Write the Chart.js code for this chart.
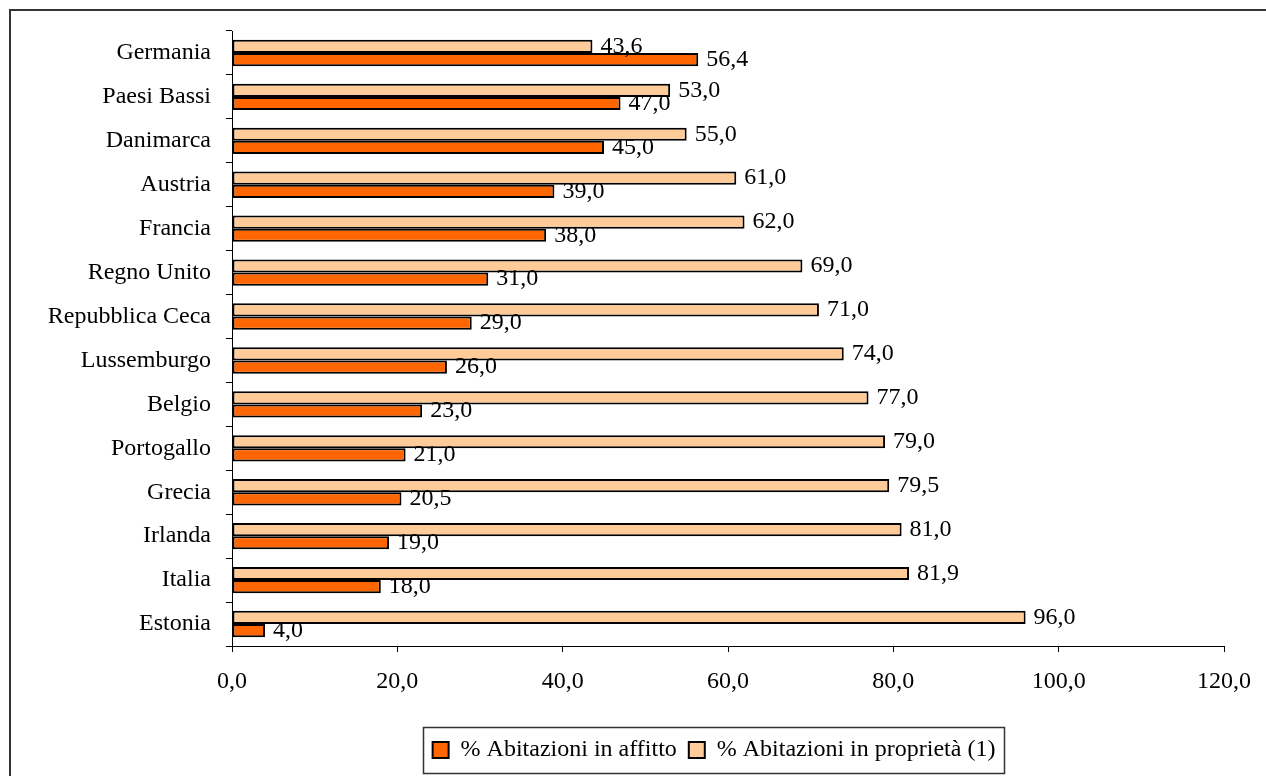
<!DOCTYPE html>
<html lang="it">
<head>
    <meta charset="UTF-8">
    <title>Abitazioni in affitto e in proprietà</title>
    <script src="https://cdn.jsdelivr.net/npm/chart.js"></script>
    <style>
        body {
            margin: 0;
            padding: 0;
            background-color: #fff;
        }

        #chart-container {
            position: relative;
            width: 1266px;
            height: 776px;
        }
    </style>
</head>
<body>
    <div id="chart-container">
        <canvas id="casaChart"></canvas>
    </div>
    <script>
        // Paesi, dall'alto verso il basso
        const paesi = ['Germania', 'Paesi Bassi', 'Danimarca', 'Austria', 'Francia', 'Regno Unito',
            'Repubblica Ceca', 'Lussemburgo', 'Belgio', 'Portogallo', 'Grecia', 'Irlanda', 'Italia', 'Estonia'];
        const affitto = [56.4, 47.0, 45.0, 39.0, 38.0, 31.0, 29.0, 26.0, 23.0, 21.0, 20.5, 19.0, 18.0, 4.0];
        const proprieta = [43.6, 53.0, 55.0, 61.0, 62.0, 69.0, 71.0, 74.0, 77.0, 79.0, 79.5, 81.0, 81.9, 96.0];
        const asseX = { min: 0, max: 120, step: 20 };

        const fmt = v => v.toFixed(1).replace('.', ',');
        const FONT = "'Liberation Serif', 'Times New Roman', serif";

        Chart.defaults.font.family = FONT;
        Chart.defaults.font.size = 24;
        Chart.defaults.color = '#000';

        // cornice esterna, etichette dei valori e riquadro della legenda
        const extras = {
            id: 'extras',
            beforeDraw(chart) {
                const ctx = chart.ctx;
                ctx.save();
                ctx.fillStyle = '#fff';
                ctx.fillRect(0, 0, chart.width, chart.height);
                ctx.strokeStyle = '#333';
                ctx.lineWidth = 2;
                ctx.strokeRect(10, 10, chart.width + 20, chart.height + 20);
                ctx.restore();
            },
            afterLayout(chart) {
                // legenda centrata sotto l'area del grafico
                const lg = chart.legend;
                const w = lg.right - lg.left;
                const c = (chart.chartArea.left + chart.chartArea.right) / 2 - 14;
                lg.left = c - w / 2;
                lg.right = c + w / 2;
            },
            afterDatasetsDraw(chart) {
                const ctx = chart.ctx;
                ctx.save();
                ctx.font = '24px ' + FONT;
                ctx.fillStyle = '#000';
                ctx.textBaseline = 'middle';
                ctx.textAlign = 'left';
                chart.data.datasets.forEach((ds, i) => {
                    chart.getDatasetMeta(i).data.forEach((bar, j) => {
                        ctx.fillText(fmt(ds.data[j]), bar.x + 8, bar.y);
                    });
                });
                ctx.restore();
            },
            afterDraw(chart) {
                const boxes = chart.legend.legendHitBoxes;
                if (!boxes || !boxes.length) return;
                const left = Math.min(...boxes.map(b => b.left)) - 10;
                const right = Math.max(...boxes.map(b => b.left + b.width)) + 8;
                const top = Math.min(...boxes.map(b => b.top)) - 11;
                const bottom = Math.max(...boxes.map(b => b.top + b.height)) + 11;
                const ctx = chart.ctx;
                ctx.save();
                ctx.strokeStyle = '#333';
                ctx.lineWidth = 1.5;
                ctx.strokeRect(Math.round(left) + 0.5, Math.round(top) + 0.5,
                    Math.round(right - left), Math.round(bottom - top));
                ctx.restore();
            }
        };

        new Chart(document.getElementById('casaChart'), {
            type: 'bar',
            data: {
                labels: paesi,
                datasets: [
                    {
                        label: '% Abitazioni in proprietà (1)',
                        data: proprieta,
                        backgroundColor: '#FFCC99',
                        borderColor: '#000',
                        borderWidth: 2,
                        borderSkipped: false
                    },
                    {
                        label: '% Abitazioni in affitto',
                        data: affitto,
                        backgroundColor: '#FF6600',
                        borderColor: '#000',
                        borderWidth: 2,
                        borderSkipped: false
                    }
                ]
            },
            options: {
                indexAxis: 'y',
                responsive: true,
                maintainAspectRatio: false,
                animation: false,
                categoryPercentage: 0.6,
                barPercentage: 1.0,
                layout: {
                    padding: { left: 20, right: 38, top: 31, bottom: 4 }
                },
                plugins: {
                    tooltip: { enabled: false },
                    legend: {
                        position: 'bottom',
                        reverse: true,
                        labels: {
                            boxWidth: 16,
                            boxHeight: 16,
                            padding: 12,
                            color: '#000',
                            font: { size: 24, family: FONT }
                        }
                    }
                },
                scales: {
                    x: {
                        min: asseX.min,
                        max: asseX.max,
                        afterFit(scale) { scale.height = 80; },
                        ticks: {
                            stepSize: asseX.step,
                            padding: 15,
                            maxRotation: 0,
                            callback: v => fmt(v)
                        },
                        grid: {
                            drawOnChartArea: false,
                            drawTicks: true,
                            tickLength: 6,
                            color: '#000'
                        },
                        border: { color: '#000', width: 1 }
                    },
                    y: {
                        afterFit(scale) { scale.width = 212; },
                        ticks: { padding: 15, autoSkip: false },
                        grid: {
                            drawOnChartArea: false,
                            drawTicks: true,
                            tickLength: 6,
                            color: '#000'
                        },
                        border: { color: '#000', width: 1 }
                    }
                }
            },
            plugins: [extras]
        });
    </script>
</body>
</html>
